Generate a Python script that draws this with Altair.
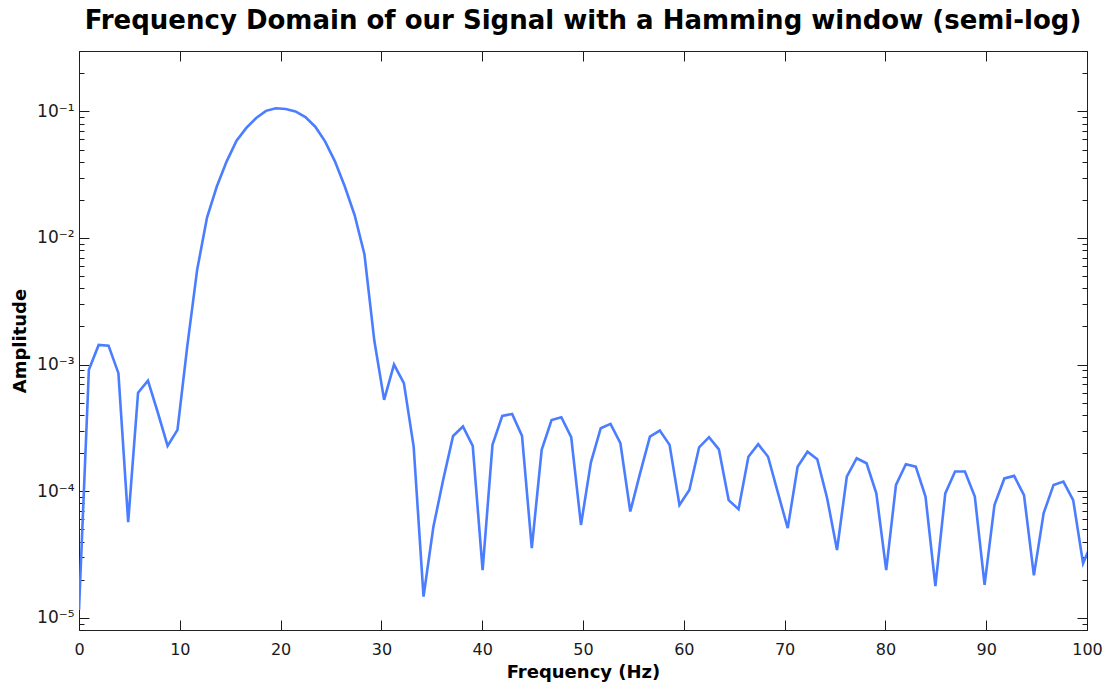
import altair as alt
import pandas as pd

# FFT bin centres (Hz) and the magnitude in each bin
freq_hz = [
    0.00, 0.98, 1.95, 2.93, 3.91, 4.88, 5.86, 6.84, 7.81, 8.79,
    9.77, 10.74, 11.72, 12.70, 13.67, 14.65, 15.63, 16.60, 17.58, 18.55,
    19.53, 20.51, 21.48, 22.46, 23.44, 24.41, 25.39, 26.37, 27.34, 28.32,
    29.30, 30.27, 31.25, 32.23, 33.20, 34.18, 35.16, 36.13, 37.11, 38.09,
    39.06, 40.04, 41.02, 41.99, 42.97, 43.95, 44.92, 45.90, 46.88, 47.85,
    48.83, 49.80, 50.78, 51.76, 52.73, 53.71, 54.69, 55.66, 56.64, 57.62,
    58.59, 59.57, 60.55, 61.52, 62.50, 63.48, 64.45, 65.43, 66.41, 67.38,
    68.36, 69.34, 70.31, 71.29, 72.27, 73.24, 74.22, 75.20, 76.17, 77.15,
    78.13, 79.10, 80.08, 81.05, 82.03, 83.01, 83.98, 84.96, 85.94, 86.91,
    87.89, 88.87, 89.84, 90.82, 91.80, 92.77, 93.75, 94.73, 95.70, 96.68,
    97.66, 98.63, 99.61, 100.59,
]

amplitude = [
    1.15e-5, 9.1e-4, 1.43e-3, 1.41e-3, 8.55e-4, 5.7e-5, 6.0e-4, 7.46e-4, 4.2e-4, 2.28e-4,
    3.05e-4, 1.39e-3, 5.6e-3, 1.45e-2, 2.55e-2, 4.03e-2, 5.87e-2, 7.4e-2, 8.87e-2, 1.01e-1,
    1.06e-1, 1.045e-1, 1.00e-1, 9.03e-2, 7.57e-2, 5.8e-2, 4.03e-2, 2.55e-2, 1.52e-2, 7.4e-3,
    1.54e-3, 5.26e-4, 1.0e-3, 7.13e-4, 2.25e-4, 1.47e-5, 5.24e-5, 1.23e-4, 2.73e-4, 3.24e-4,
    2.28e-4, 2.38e-5, 2.32e-4, 3.93e-4, 4.07e-4, 2.73e-4, 3.54e-5, 2.12e-4, 3.65e-4, 3.84e-4,
    2.67e-4, 5.41e-5, 1.68e-4, 3.14e-4, 3.4e-4, 2.39e-4, 6.9e-5, 1.38e-4, 2.70e-4, 3.01e-4,
    2.32e-4, 7.78e-5, 1.02e-4, 2.22e-4, 2.67e-4, 2.14e-4, 8.5e-5, 7.2e-5, 1.87e-4, 2.35e-4,
    1.87e-4, 9.7e-5, 5.1e-5, 1.56e-4, 2.05e-4, 1.79e-4, 8.8e-5, 3.43e-5, 1.30e-4, 1.82e-4,
    1.66e-4, 9.6e-5, 2.38e-5, 1.12e-4, 1.63e-4, 1.56e-4, 9.05e-5, 1.78e-5, 9.6e-5, 1.43e-4,
    1.43e-4, 9.05e-5, 1.82e-5, 7.78e-5, 1.26e-4, 1.32e-4, 9.3e-5, 2.16e-5, 6.7e-5, 1.12e-4,
    1.19e-4, 8.5e-5, 2.69e-5, 4.1e-5,
]

x_ticks = [0, 10, 20, 30, 40, 50, 60, 70, 80, 90, 100]
y_major = [1e-5, 1e-4, 1e-3, 1e-2, 1e-1]
y_minor = [
    8e-6, 9e-6,
    2e-5, 3e-5, 4e-5, 5e-5, 6e-5, 7e-5, 8e-5, 9e-5,
    2e-4, 3e-4, 4e-4, 5e-4, 6e-4, 7e-4, 8e-4, 9e-4,
    2e-3, 3e-3, 4e-3, 5e-3, 6e-3, 7e-3, 8e-3, 9e-3,
    2e-2, 3e-2, 4e-2, 5e-2, 6e-2, 7e-2, 8e-2, 9e-2,
    2e-1, 3e-1,
]

df = pd.DataFrame({"freq": freq_hz, "amp": amplitude})

LINE = "#4A7DFF"
INK = "#1a1a1a"
TICK_FONT = "DejaVu Sans"
BOLD_FONT = "DejaVu Sans"

x_scale = alt.Scale(domain=[0, 100], nice=False)
y_scale = alt.Scale(type="log", domain=[8e-6, 0.3], nice=False)

exp_labels = (
    "datum.value < 5e-5 ? '10\u207b\u2075' : "
    "datum.value < 5e-4 ? '10\u207b\u2074' : "
    "datum.value < 5e-3 ? '10\u207b\u00b3' : "
    "datum.value < 5e-2 ? '10\u207b\u00b2' : '10\u207b\u00b9'"
)

base = alt.Chart(df)

# spectrum line with the labelled bottom/left axes (ticks point inward)
spectrum = base.mark_line(color=LINE, strokeWidth=2.6, clip=True).encode(
    x=alt.X(
        "freq:Q",
        scale=x_scale,
        axis=alt.Axis(
            orient="bottom", values=x_ticks, format="d", offset=-10, tickSize=10,
            domain=False, grid=False, tickColor=INK, labelPadding=11,
            labelFlush=False, labelOverlap=False,
            labelFont=TICK_FONT, labelFontSize=16, labelColor=INK,
            title="Frequency (Hz)", titleFont=BOLD_FONT, titleFontSize=18,
            titleFontWeight="bold", titleColor="#000", titleY=57,
            titleBaseline="alphabetic",
        ),
    ),
    y=alt.Y(
        "amp:Q",
        scale=y_scale,
        axis=alt.Axis(
            orient="left", values=y_major, labelExpr=exp_labels, offset=-10,
            tickSize=10, domain=False, grid=False, tickColor=INK, labelPadding=5,
            labelFlush=False, labelOverlap=False,
            labelFont=TICK_FONT, labelFontSize=17, labelColor=INK,
            title="Amplitude", titleFont=BOLD_FONT, titleFontSize=18,
            titleFontWeight="bold", titleColor="#000", titleX=-64,
            titleBaseline="alphabetic",
        ),
    ),
)

# major ticks mirrored on the top and right edges
mirror = base.mark_line(strokeOpacity=0).encode(
    x=alt.X(
        "freq:Q", scale=x_scale,
        axis=alt.Axis(orient="top", values=x_ticks, labels=False, offset=-10,
                      tickSize=10, domain=False, grid=False, tickColor=INK, title=None),
    ),
    y=alt.Y(
        "amp:Q", scale=y_scale,
        axis=alt.Axis(orient="right", values=y_major, labels=False, offset=-10,
                      tickSize=10, domain=False, grid=False, tickColor=INK, title=None),
    ),
)

# short minor ticks of the log axis, left and right
minor_left = base.mark_line(strokeOpacity=0).encode(
    x=alt.X("freq:Q", scale=x_scale, axis=None),
    y=alt.Y(
        "amp:Q", scale=y_scale,
        axis=alt.Axis(orient="left", values=y_minor, labels=False, offset=-5,
                      tickSize=5, domain=False, grid=False, tickColor=INK, title=None),
    ),
)

minor_right = base.mark_line(strokeOpacity=0).encode(
    x=alt.X("freq:Q", scale=x_scale, axis=None),
    y=alt.Y(
        "amp:Q", scale=y_scale,
        axis=alt.Axis(orient="right", values=y_minor, labels=False, offset=-5,
                      tickSize=5, domain=False, grid=False, tickColor=INK, title=None),
    ),
)

chart = (
    alt.layer(spectrum, mirror, minor_left, minor_right)
    .resolve_axis(x="independent", y="independent")
    .properties(
        width=1008,
        height=579,
        title=alt.TitleParams(
            text="Frequency Domain of our Signal with a Hamming window (semi-log)",
            font=BOLD_FONT, fontSize=26, fontWeight="bold", color="#000",
            anchor="middle", baseline="alphabetic", offset=-4,
        ),
        autosize=alt.AutoSizeParams(type="none"),
        padding={"left": 79, "top": 51, "right": 20, "bottom": 58},
        background="white",
    )
    .configure_view(stroke="#222", strokeWidth=1)
)

chart.save("out.html", embed_options={"renderer": "svg", "actions": False})
